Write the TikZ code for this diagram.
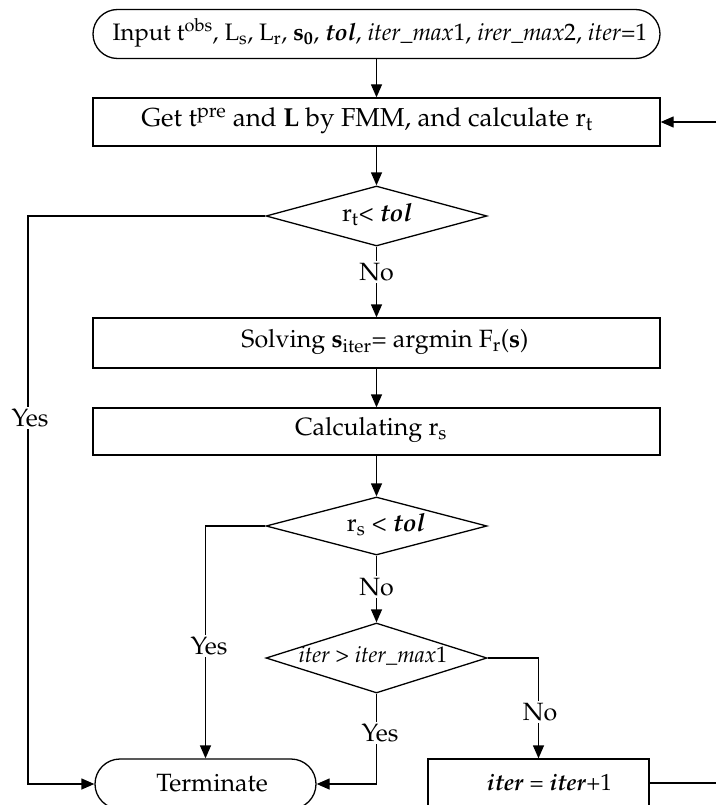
\documentclass[tikz,border=0pt]{standalone}
\usepackage[T1]{fontenc}
\usepackage{mathpazo}
\usetikzlibrary{shapes.geometric,shapes.misc,arrows.meta}
\begin{document}
\begin{tikzpicture}[x=1pt,y=-1pt,
  font=\fontsize{25}{30}\selectfont,
  line width=1.3pt,
  arr/.style={-{Triangle[length=13pt,width=11pt]}},
  procbox/.style={draw, rectangle, inner sep=0pt, minimum height=48pt},
  termbox/.style={draw, rounded rectangle, inner sep=0pt, minimum height=49pt},
  decide/.style={draw, diamond, inner sep=0pt, minimum width=221pt},
  txt/.style={inner sep=0pt},
  lbl/.style={fill=white, inner sep=2pt}]
\useasboundingbox (0,0) rectangle (716,805);
\node[termbox, minimum width=567pt] (input) at (376.5,34) {};
\node[txt, font=\fontsize{23.8}{28}\selectfont] (inputtxt) at (380,33)
  {Input t\textsuperscript{obs}, L\textsubscript{s}, L\textsubscript{r}, \textbf{s\textsubscript{0}}, \textbf{\textit{tol}}, \textit{iter\_max}1, \textit{irer\_max}2, \textit{iter}=1};
\node[procbox, minimum width=567pt] (get) at (376.5,122) {};
\node[txt, font=\fontsize{26}{30}\selectfont] (gettxt) at (367,121)
  {Get t\textsuperscript{pre} and \textbf{L} by FMM, and calculate r\textsubscript{t}};
\node[decide, minimum height=60pt] (d1) at (376.5,216) {};
\node[txt] (d1txt) at (377,215) {r\textsubscript{t}< \textbf{\textit{tol}}};
\node[procbox, minimum width=567pt, minimum height=50pt] (solve) at (376.5,343) {};
\node[txt] (solvetxt) at (385,342)
  {Solving \textbf{s}\textsubscript{iter}= argmin F\textsubscript{r}(\textbf{s})};
\node[procbox, minimum width=567pt, minimum height=47pt] (calc) at (376.5,431.5) {};
\node[txt] (calctxt) at (371,430) {Calculating r\textsubscript{s}};
\node[decide, minimum height=58pt] (d2) at (376.5,526) {};
\node[txt] (d2txt) at (386,525) {r\textsubscript{s} < \textbf{\textit{tol}}};
\node[decide, minimum height=70pt] (d3) at (376.5,658) {};
\node[txt, font=\fontsize{22.5}{27}\selectfont] (d3txt) at (373,656)
  {\textit{iter} > \textit{iter\_max}1};
\node[termbox, minimum width=221pt, minimum height=50pt] (term) at (205.5,784) {};
\node[txt] (termtxt) at (212,783) {Terminate};
\node[procbox, minimum width=221pt] (iterbox) at (538.5,783) {};
\node[txt, font=\fontsize{23.3}{28}\selectfont] (itertxt) at (549.5,782)
  {\textbf{\textit{iter}} = \textbf{\textit{iter}}+1};
\coordinate (e1) at (716,122);
\coordinate (e2) at (716,783);
\coordinate (lc) at (28,784);
% connectors
\draw[arr] (input) -- (get);
\draw[arr] (get) -- (d1);
\draw[arr] (d1) -- (solve);
\draw[arr] (solve) -- (calc);
\draw[arr] (calc) -- (d2);
\draw[arr] (d2) -- (d3);
\draw[arr] (d1.west) -| (lc) -- (term.west);
\draw[arr] (d2.west) -| (term.north);
\draw[arr] (d3.south) |- (term.east);
\draw[arr] (d3.east) -| (iterbox.north);
\draw (iterbox.east) -- (e2);
\draw[arr] (e1) -- (get.east);
% labels
\node[lbl] (no1) at (376.5,272) {No};
\node[lbl] (no2) at (376.5,587) {No};
\node[lbl] (yes1) at (30,418) {Yes};
\node[lbl] (yes2) at (209,646) {Yes};
\node[lbl] (yes3) at (380,733) {Yes};
\node[lbl] (no3) at (540,712) {No};
\end{tikzpicture}
\end{document}
